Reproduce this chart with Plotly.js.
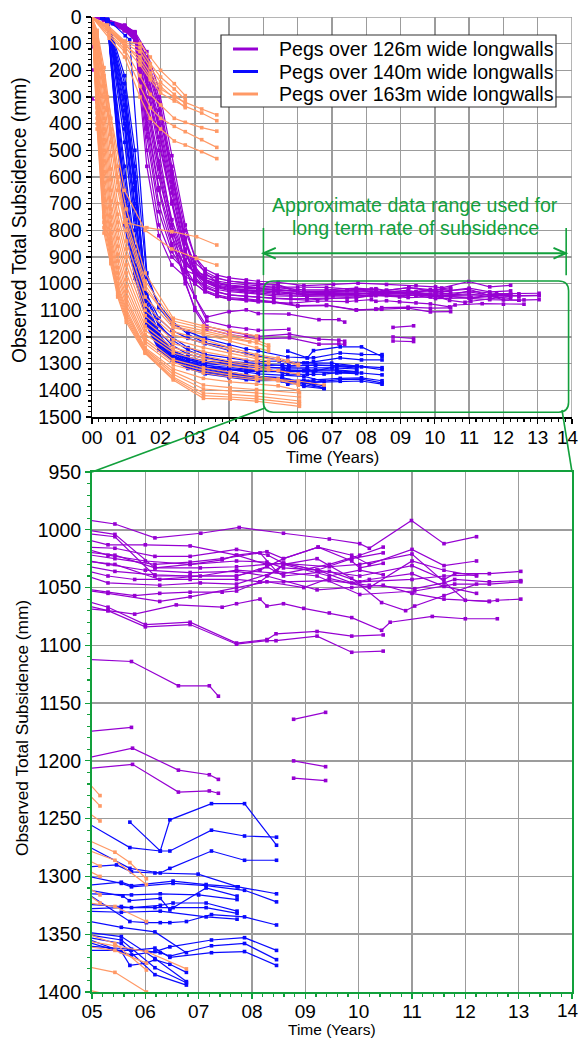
<!DOCTYPE html>
<html>
<head>
<meta charset="utf-8">
<script src="https://cdn.plot.ly/plotly-3.0.1.min.js"></script>
<style>html,body{margin:0;padding:0;background:#fff;overflow:hidden;}#chart{width:581px;height:1038px;}</style>
</head>
<body>
<div id="chart"></div>
<script>
// ---------------- DATA: each peg is a list of [time (years), subsidence (mm)] ----------------
// Pegs over 126m wide longwalls (purple)
const purple01 = [[0,0],[0.35,8],[0.95,40],[1.25,66],[1.6,150],[1.95,300],[2.33,560],[2.72,800],[3.0,900],[3.3,945],[3.65,968],[4.0,978],[4.5,986],[4.85,991],[5.43,995],[6.18,1007],[7.04,1003],[7.76,998],[8.59,1003],[9.45,1008],[10.02,1012],[10.2,1016],[10.99,992],[11.6,1012],[12.21,1006]];
const purple02 = [[0,0],[0.35,12],[0.95,48],[1.25,72],[1.6,420],[1.95,700],[2.33,860],[2.72,930],[3.0,955],[3.3,968],[3.65,980],[4.0,990],[4.5,996],[4.85,1000],[5.43,1004],[6.18,1033],[6.84,1030],[7.44,1026],[7.71,1022],[8.28,1030],[8.59,1029],[9.22,1035],[9.87,1025],[10.46,1020]];
const purple03 = [[0,0],[0.35,6],[0.95,30],[1.25,58],[1.6,200],[1.95,380],[2.33,620],[2.72,850],[3.0,920],[3.3,955],[3.65,978],[4.0,990],[4.5,998],[4.85,1003],[5.43,1006],[6.18,1040],[6.84,1040],[7.71,1040],[8.15,1035],[8.59,1025],[9.24,1015],[9.87,1027],[10.02,1033],[10.46,1029]];
const purple04 = [[0,0],[0.35,10],[0.95,45],[1.25,75],[1.6,500],[1.95,780],[2.33,900],[2.72,950],[3.0,965],[3.3,978],[3.65,990],[4.0,998],[4.5,1004],[4.85,1008],[5.3,1013],[6.0,1013],[6.84,1014],[7.71,1022],[8.28,1019],[8.59,1025],[9.24,1015],[9.87,1022],[10.2,1030],[11.0,1017],[11.6,1031],[12.21,1027]];
const purple05 = [[0,0],[0.35,9],[0.95,38],[1.25,62],[1.6,260],[1.95,470],[2.33,700],[2.72,880],[3.0,945],[3.3,975],[3.65,995],[4.0,1005],[4.5,1011],[4.85,1015],[5.43,1016],[6.18,1023],[6.84,1023],[7.71,1017],[8.3,1022],[8.59,1029],[9.45,1032],[10.02,1030],[11.0,1021],[12.0,1061],[12.45,1062],[12.6,1061],[13.04,1060]];
const purple06 = [[0,0],[0.35,11],[0.95,42],[1.25,70],[1.6,350],[1.95,600],[2.33,800],[2.72,920],[3.0,960],[3.3,985],[3.65,1000],[4.0,1008],[4.5,1012],[4.85,1016],[5.3,1022],[6.0,1027],[6.84,1030],[7.71,1027],[8.28,1028],[8.59,1033],[9.22,1035],[10.02,1040],[11.0,1031],[11.6,1043],[11.8,1038],[12.45,1038],[13.04,1036]];
const purple07 = [[0,0],[0.35,7],[0.95,33],[1.25,55],[1.6,130],[1.95,270],[2.33,520],[2.72,780],[3.0,900],[3.3,960],[3.65,995],[4.0,1008],[4.5,1014],[4.85,1019],[5.43,1022],[6.18,1033],[7.03,1033],[7.71,1032],[8.28,1030],[8.59,1029],[9.24,1035],[9.87,1046],[10.2,1043],[11.0,1038],[11.6,1049],[12.21,1055]];
const purple08 = [[0,0],[0.35,10],[0.95,44],[1.25,68],[1.6,300],[1.95,540],[2.33,760],[2.72,910],[3.0,965],[3.3,995],[3.65,1012],[4.0,1022],[4.5,1027],[4.85,1031],[5.43,1036],[6.18,1039],[6.84,1040],[7.71,1040],[8.28,1032],[8.59,1040],[9.45,1036],[10.02,1045],[11.0,1043],[11.6,1040],[12.21,1039]];
const purple09 = [[0,0],[0.35,8],[0.95,36],[1.25,60],[1.6,180],[1.95,350],[2.33,600],[2.72,840],[3.0,950],[3.3,995],[3.65,1015],[4.0,1025],[4.5,1031],[4.85,1035],[5.3,1040],[5.8,1043],[6.84,1043],[7.71,1043],[8.15,1045],[8.59,1045],[9.45,1044],[10.2,1048],[11.05,1051],[11.6,1046],[11.8,1043],[12.45,1045],[13.04,1044]];
const purple10 = [[0,0],[0.35,12],[0.95,50],[1.25,78],[1.6,560],[1.95,820],[2.33,930],[2.72,975],[3.0,990],[3.3,1005],[3.65,1022],[4.0,1030],[4.5,1035],[4.85,1039],[5.3,1046],[6.27,1048],[7.03,1046],[7.71,1047],[8.46,1036],[9.22,1040],[10.02,1056],[11.05,1053],[11.8,1047],[12.45,1047],[13.04,1045]];
const purple11 = [[0,0],[0.35,9],[0.95,40],[1.25,64],[1.6,230],[1.95,420],[2.33,660],[2.72,880],[3.0,975],[3.3,1015],[3.65,1032],[4.0,1042],[4.5,1047],[4.85,1051],[5.3,1054],[5.8,1057],[6.27,1055],[6.84,1054],[7.44,1054],[7.71,1053],[8.15,1045],[8.59,1030],[9.22,1025],[9.87,1042],[10.43,1063],[10.88,1070],[11.05,1066],[11.6,1057],[12.21,1047]];
const purple12 = [[0,0],[0.35,7],[0.95,34],[1.25,57],[1.6,160],[1.95,320],[2.33,580],[2.72,830],[3.0,960],[3.3,1010],[3.65,1030],[4.0,1042],[4.5,1048],[4.85,1052],[5.3,1055],[6.27,1062],[6.84,1058],[7.71,1050],[8.28,1045],[8.97,1050],[9.45,1042],[10.2,1050],[11.0,1027],[11.6,1035],[12.21,1040]];
const purple13 = [[0,0],[0.35,10],[0.95,46],[1.25,74],[1.6,450],[1.95,730],[2.33,880],[2.72,960],[3.0,1000],[3.3,1030],[3.65,1048],[4.0,1058],[4.5,1064],[4.85,1068],[5.3,1070],[5.8,1073],[6.58,1065],[7.44,1067],[7.71,1064],[8.15,1060],[8.28,1066],[8.59,1064],[8.97,1068],[9.45,1072],[9.87,1076],[10.43,1087],[10.59,1080],[11.38,1075],[12.0,1077],[12.6,1077]];
const purple14 = [[0,0],[0.35,8],[0.95,37],[1.25,61],[1.6,210],[1.95,400],[2.33,640],[2.72,870],[3.0,980],[3.3,1025],[3.65,1042],[4.0,1052],[4.5,1057],[4.85,1061],[5.3,1067],[6.0,1082],[6.84,1080],[7.71,1098],[8.28,1095],[8.45,1090],[9.22,1088],[9.87,1092],[10.46,1091]];
const purple15 = [[0,0],[0.35,11],[0.95,47],[1.25,73],[1.6,380],[1.95,640],[2.33,820],[2.72,940],[3.0,1000],[3.3,1030],[3.65,1047],[4.0,1056],[4.5,1061],[4.85,1065],[5.3,1070],[6.0,1084],[6.84,1082],[7.71,1099],[8.28,1096],[8.45,1096],[9.22,1092],[9.87,1106],[10.46,1105]];
const purple16 = [[0,0],[0.35,9],[0.95,39],[1.25,63],[1.6,240],[1.95,450],[2.33,690],[2.72,890],[3.0,950],[3.3,985],[3.65,1005],[4.0,1013],[4.5,1018],[4.85,1021],[5.43,1025],[6.18,1030],[6.84,1028],[7.44,1025],[8.15,1020],[8.46,1036],[8.59,1030],[9.45,1040],[10.02,1035],[10.46,1039]];
const purple17 = [[0,0],[0.35,10],[0.95,43],[1.25,67],[1.6,330],[1.95,560],[2.33,780],[2.72,915],[3.0,958],[3.3,990],[3.65,1010],[4.0,1018],[4.5,1023],[4.85,1026],[5.3,1030],[6.0,1035],[6.84,1037],[7.71,1036],[8.28,1040],[9.22,1052],[9.87,1050],[10.46,1048],[11.0,1055],[11.6,1060],[12.45,1062]];
const purple18 = [[0,0],[0.35,8],[0.95,35],[1.25,59],[1.6,170],[1.95,330],[2.33,590],[2.72,830],[3.0,935],[3.3,985],[3.65,1008],[4.0,1018],[4.5,1024],[4.85,1027],[5.43,1030],[6.27,1043],[7.03,1040],[7.71,1035],[8.59,1038],[9.45,1030],[10.02,1022],[10.46,1015]];
const purple19 = [[0,0],[0.35,10],[0.95,45],[1.25,80],[1.6,400],[1.95,650],[2.33,850],[2.72,980],[3.0,1050],[3.35,1125],[4.0,1105],[4.5,1098],[4.85,1112],[5.74,1114],[6.62,1135],[7.2,1135],[7.37,1144]];
const purple20 = [[0,0],[0.35,12],[0.95,50],[1.25,85],[1.6,200],[1.95,420],[2.33,700],[2.72,930],[3.0,1050],[3.35,1140],[4.0,1160],[4.5,1170],[4.85,1175],[5.74,1171]];
const purple21 = [[0,0],[0.35,11],[0.95,48],[1.25,82],[1.6,320],[1.95,570],[2.33,820],[2.72,1000],[3.0,1090],[3.35,1160],[4.0,1180],[4.5,1192],[4.85,1198],[5.76,1189],[6.62,1208],[7.2,1212],[7.37,1216]];
const purple22 = [[0,0],[0.35,13],[0.95,52],[1.25,88],[1.6,260],[1.95,500],[2.33,780],[2.72,990],[3.0,1100],[3.35,1170],[4.0,1190],[4.5,1200],[4.85,1207],[5.76,1203],[6.62,1227],[7.2,1226],[7.37,1228]];
const purple23 = [[8.78,1164],[9.38,1158]];
const purple24 = [[8.78,1200],[9.38,1205]];
const purple25 = [[8.78,1215],[9.38,1217]];
const purple26 = [[0,307],[0.14,315]];
const purple27 = [[0,111]];
const purple28 = [[0,199]];

// Pegs over 140m wide longwalls (blue)
const blue01 = [[5.71,1253],[6.28,1278],[6.46,1251],[7.24,1237],[7.86,1237],[8.46,1273]];
const blue02 = [[0.3,3],[0.6,25],[0.97,70],[1.1,85],[1.6,960],[1.95,1090],[2.33,1150],[2.8,1180],[3.3,1205],[4.0,1230],[4.5,1245],[4.85,1252],[5.71,1275],[6.28,1278],[6.46,1278],[7.24,1260],[7.86,1265],[8.46,1266]];
const blue03 = [[0.3,2],[0.45,10],[0.95,300],[1.25,620],[1.6,1040],[1.95,1130],[2.33,1175],[2.8,1205],[3.3,1225],[4.0,1250],[4.5,1262],[4.85,1272],[5.71,1293],[6.28,1297],[6.46,1293],[7.24,1278],[7.86,1286],[8.46,1286]];
const blue04 = [[0.3,4],[0.45,15],[0.95,700],[1.25,900],[1.6,1060],[1.95,1160],[2.33,1200],[2.8,1240],[3.3,1265],[4.0,1280],[4.5,1288],[4.85,1292],[5.46,1290],[5.74,1296],[6.18,1297],[6.99,1298],[7.74,1309],[8.46,1315]];
const blue05 = [[0.3,3],[0.45,14],[0.95,350],[1.25,650],[1.6,1080],[1.95,1180],[2.33,1230],[2.8,1265],[3.3,1280],[4.0,1292],[4.5,1296],[4.85,1299],[5.55,1306],[5.74,1309],[6.52,1306],[7.14,1308],[7.86,1312],[8.46,1322]];
const blue06 = [[0.3,5],[0.45,18],[0.95,750],[1.25,960],[1.6,1100],[1.95,1200],[2.33,1250],[2.8,1275],[3.3,1290],[4.0,1300],[4.5,1305],[4.85,1308],[5.55,1305],[5.74,1308],[6.52,1304],[7.14,1307],[7.72,1309]];
const blue07 = [[0.3,2],[0.45,9],[0.95,280],[1.25,600],[1.6,1110],[1.95,1210],[2.33,1255],[2.8,1280],[3.3,1295],[4.0,1303],[4.5,1308],[4.85,1311],[5.58,1317],[5.7,1321],[6.28,1319],[6.46,1329],[6.52,1327],[7.14,1310],[7.72,1317]];
const blue08 = [[0.3,4],[0.45,16],[0.95,650],[1.25,880],[1.6,1120],[1.95,1215],[2.33,1260],[2.8,1285],[3.3,1300],[4.0,1308],[4.5,1312],[4.85,1315],[5.74,1316],[6.28,1315],[7.0,1316],[7.72,1320]];
const blue09 = [[0.3,3],[0.45,13],[0.95,400],[1.25,720],[1.6,1130],[1.95,1225],[2.33,1268],[2.8,1292],[3.3,1306],[4.0,1315],[4.5,1320],[4.85,1324],[5.55,1326],[5.74,1327],[6.28,1325],[6.52,1323],[7.14,1323],[7.72,1330]];
const blue10 = [[0.3,5],[0.45,20],[0.95,780],[1.25,980],[1.6,1140],[1.95,1230],[2.33,1272],[2.8,1298],[3.3,1312],[4.0,1320],[4.5,1325],[4.85,1328],[5.55,1327],[6.18,1327],[7.14,1327],[7.72,1332]];
const blue11 = [[0.3,2],[0.45,11],[0.95,330],[1.25,640],[1.6,1050],[1.95,1150],[2.33,1210],[2.8,1250],[3.3,1275],[4.0,1295],[4.5,1305],[4.85,1313],[5.71,1339],[6.02,1340],[6.28,1340],[6.46,1340],[6.77,1339],[7.24,1333],[7.86,1335],[8.46,1342]];
const blue12 = [[0.3,4],[0.45,17],[0.95,560],[1.25,860],[1.6,1150],[1.95,1240],[2.33,1278],[2.8,1302],[3.3,1316],[4.0,1324],[4.5,1328],[4.85,1330],[5.55,1331],[6.28,1330],[7.14,1335],[7.72,1337]];
const blue13 = [[0.3,3],[0.45,12],[0.95,250],[1.25,560],[1.6,1090],[1.95,1190],[2.33,1250],[2.8,1285],[3.3,1305],[4.0,1322],[4.5,1332],[4.85,1338],[5.55,1344],[6.18,1348],[6.77,1366]];
const blue14 = [[0.3,5],[0.45,19],[0.95,680],[1.25,930],[1.6,1115],[1.95,1210],[2.33,1265],[2.8,1298],[3.3,1318],[4.0,1335],[4.5,1343],[4.85,1348],[5.55,1352],[6.18,1371],[6.77,1391]];
const blue15 = [[0.3,2],[0.45,10],[0.95,420],[1.25,760],[1.6,1125],[1.95,1220],[2.33,1270],[2.8,1302],[3.3,1322],[4.0,1338],[4.5,1346],[4.85,1350],[5.55,1355],[6.18,1379],[6.77,1392]];
const blue16 = [[0.3,4],[0.45,15],[0.95,720],[1.25,950],[1.6,1135],[1.95,1228],[2.33,1275],[2.8,1306],[3.3,1326],[4.0,1341],[4.5,1349],[4.85,1353],[5.55,1365],[5.71,1377],[6.02,1375],[6.18,1372],[6.46,1376],[6.77,1383]];
const blue17 = [[0.3,3],[0.45,14],[0.95,380],[1.25,700],[1.6,1145],[1.95,1235],[2.33,1280],[2.8,1310],[3.3,1330],[4.0,1344],[4.5,1352],[4.85,1356],[5.74,1368],[6.18,1365],[6.46,1361],[7.24,1355],[7.86,1353],[8.46,1364]];
const blue18 = [[0.3,5],[0.45,18],[0.95,600],[1.25,890],[1.6,1155],[1.95,1242],[2.33,1283],[2.8,1314],[3.3,1334],[4.0,1348],[4.5,1356],[4.85,1360],[5.74,1363],[6.28,1366],[6.46,1369],[7.24,1360],[7.86,1358],[8.46,1372]];
const blue19 = [[0.3,2],[0.45,9],[0.95,470],[1.25,800],[1.6,1160],[1.95,1248],[2.33,1286],[2.8,1318],[3.3,1338],[4.0,1352],[4.5,1360],[4.85,1364],[5.74,1364],[6.18,1362],[6.46,1370],[7.24,1366],[7.86,1365],[8.46,1377]];
const blue20 = [[0.3,4],[0.45,16],[0.95,300],[1.25,620],[1.6,1100],[1.95,1200],[2.33,1258],[2.8,1292],[3.3,1312],[4.0,1330],[4.5,1342],[4.85,1352],[5.55,1358],[6.18,1385],[6.77,1394]];
const blue21 = [[0.3,3],[0.45,12],[0.95,220],[1.25,500],[1.6,980],[1.95,1080],[2.33,1140],[2.8,1190],[3.3,1222],[4.03,1240]];

// Pegs over 163m wide longwalls (orange)
const orange01 = [[0,0],[0.45,30],[0.95,90],[1.4,100],[1.7,150],[2.0,200],[2.4,250],[2.72,295]];
const orange02 = [[0,0],[0.45,35],[0.95,95],[1.4,115],[1.7,175],[2.0,225],[2.4,270],[2.72,310]];
const orange03 = [[0,0],[0.45,40],[0.95,100],[1.4,130],[1.7,190],[2.0,245],[2.4,290],[2.72,325]];
const orange04 = [[0,0],[0.45,45],[0.95,105],[1.4,150],[1.7,210],[2.0,260],[2.4,305],[2.72,340]];
const orange05 = [[0,0],[0.45,40],[0.95,100],[1.4,165],[1.7,225],[2.0,270],[2.4,300],[2.72,320],[3.2,345],[3.64,367]];
const orange06 = [[0,0],[0.45,45],[0.95,110],[1.4,180],[1.7,235],[2.0,285],[2.4,315],[2.72,335],[3.2,360],[3.64,389]];
const orange07 = [[0,0],[0.5,60],[0.95,120],[1.4,220],[1.7,290],[2.0,330],[2.4,380],[2.72,395],[3.2,415],[3.64,428]];
const orange08 = [[0,0],[0.5,70],[0.95,130],[1.4,260],[1.7,340],[2.0,380],[2.4,410],[2.72,430],[3.2,460],[3.64,489]];
const orange09 = [[0,0],[0.5,80],[0.95,150],[1.4,300],[1.7,380],[2.0,420],[2.4,465],[2.72,480],[3.2,505],[3.64,531]];
const orange10 = [[0,0],[0.45,350],[0.95,770],[1.6,790],[2.33,805],[3.05,824],[3.64,855]];
const orange11 = [[0,0],[0.45,300],[0.95,650],[1.55,800],[2.33,870],[3.05,905],[3.64,930]];
const orange12 = [[0,0],[0.15,60],[0.35,220],[0.55,420],[0.75,600],[1.0,760],[1.55,990],[2.37,1140],[3.25,1165],[4.03,1190],[4.8,1212],[5.15,1230]];
const orange13 = [[0,0],[0.15,80],[0.35,260],[0.55,470],[0.75,650],[1.0,800],[1.55,1020],[2.37,1152],[3.25,1176],[4.03,1200],[4.8,1222],[5.15,1239]];
const orange14 = [[0,0],[0.15,100],[0.35,300],[0.55,520],[0.75,700],[1.0,840],[1.55,1050],[2.37,1165],[3.25,1190],[4.03,1215],[4.8,1240],[5.15,1252]];
const orange15 = [[0,0],[0.15,120],[0.35,340],[0.55,570],[0.75,740],[1.0,870],[1.55,1080],[2.37,1180],[3.25,1210],[4.03,1240],[4.8,1266],[5.43,1279],[5.71,1288],[6.02,1302]];
const orange16 = [[0,0],[0.15,140],[0.35,380],[0.55,610],[0.75,770],[1.0,900],[1.55,1100],[2.37,1192],[3.25,1222],[4.03,1250],[4.8,1275],[5.43,1286],[6.02,1307]];
const orange17 = [[0,0],[0.15,160],[0.35,420],[0.55,650],[0.75,800],[1.0,930],[1.55,1120],[2.37,1210],[3.25,1240],[4.03,1262],[4.8,1283],[5.15,1291]];
const orange18 = [[0,0],[0.15,180],[0.35,460],[0.55,690],[0.75,830],[1.0,960],[1.55,1140],[2.37,1225],[3.25,1255],[4.03,1275],[4.8,1292],[5.15,1300]];
const orange19 = [[0,0],[0.15,200],[0.35,500],[0.55,720],[0.75,860],[1.0,985],[1.55,1160],[2.37,1240],[3.25,1270],[4.03,1290],[4.8,1306],[5.15,1316]];
const orange20 = [[0,0],[0.15,220],[0.35,540],[0.55,750],[0.75,890],[1.0,1010],[1.55,1175],[2.37,1250],[3.25,1280],[4.03,1298],[4.8,1312],[5.15,1323]];
const orange21 = [[0,0],[0.15,240],[0.35,580],[0.55,780],[0.75,915],[1.0,1030],[1.55,1190],[2.37,1260],[3.25,1290],[4.03,1308],[4.8,1322],[5.43,1326],[6.02,1339]];
const orange22 = [[0,0],[0.15,260],[0.35,620],[0.55,810],[0.75,940],[1.0,1050],[1.55,1205],[2.37,1285],[3.25,1315],[4.03,1332],[4.8,1348],[5.43,1358],[6.02,1381]];
const orange23 = [[0,0],[0.15,280],[0.35,650],[0.55,830],[0.75,960],[1.0,1065],[1.55,1215],[2.37,1295],[3.25,1325],[4.03,1342],[4.8,1355],[5.43,1360],[6.02,1365],[6.77,1380]];
const orange24 = [[0,0],[0.15,300],[0.35,680],[0.55,850],[0.75,980],[1.0,1080],[1.55,1225],[2.37,1305],[3.25,1335],[4.03,1350],[4.8,1360],[5.43,1364],[6.02,1375]];
const orange25 = [[0,0],[0.15,320],[0.35,710],[0.55,870],[0.75,1000],[1.0,1095],[1.55,1240],[2.37,1320],[3.25,1355],[4.03,1368],[4.8,1377],[5.43,1383],[6.02,1400]];
const orange26 = [[0,0],[0.15,340],[0.35,730],[0.55,885],[0.75,1010],[1.0,1105],[1.55,1245],[2.37,1330],[3.25,1380],[4.03,1390],[4.8,1397],[6.05,1410]];
const orange27 = [[0,0],[0.15,360],[0.35,750],[0.55,895],[0.75,1020],[1.0,1115],[1.55,1250],[2.37,1340],[3.25,1395],[4.03,1402],[4.8,1410],[6.05,1425]];
const orange28 = [[0,0],[0.15,380],[0.35,770],[0.55,905],[0.75,1030],[1.0,1125],[1.55,1255],[2.37,1350],[3.25,1410],[4.03,1415],[4.8,1422],[6.05,1440]];
const orange29 = [[0,0],[0.15,400],[0.35,790],[0.55,915],[0.75,1040],[1.0,1135],[1.55,1258],[2.37,1356],[3.25,1420],[4.03,1425],[4.8,1432],[6.05,1450]];
const orange30 = [[0,0],[0.15,420],[0.35,810],[0.55,925],[0.75,1050],[1.0,1145],[1.55,1261],[2.37,1361],[3.25,1430],[4.03,1433],[4.8,1441],[6.05,1460]];
const orange31 = [[0,0],[0.15,50],[0.35,190],[0.55,380],[0.75,560],[1.0,720],[1.55,960],[2.37,1130],[3.25,1158],[4.03,1178],[4.8,1196]];
const orange32 = [[0,0],[0.15,70],[0.35,240],[0.55,440],[0.75,620],[1.0,780],[1.55,1005],[2.37,1160],[3.25,1185],[4.03,1205],[4.6,1218]];

const purpleSeries = [purple01,purple02,purple03,purple04,purple05,purple06,purple07,purple08,purple09,purple10,purple11,purple12,purple13,purple14,purple15,purple16,purple17,purple18,purple19,purple20,purple21,purple22,purple23,purple24,purple25,purple26,purple27,purple28];
const blueSeries = [blue01,blue02,blue03,blue04,blue05,blue06,blue07,blue08,blue09,blue10,blue11,blue12,blue13,blue14,blue15,blue16,blue17,blue18,blue19,blue20,blue21];
const orangeSeries = [orange01,orange02,orange03,orange04,orange05,orange06,orange07,orange08,orange09,orange10,orange11,orange12,orange13,orange14,orange15,orange16,orange17,orange18,orange19,orange20,orange21,orange22,orange23,orange24,orange25,orange26,orange27,orange28,orange29,orange30,orange31,orange32];

const legendNames = ['Pegs over 126m wide longwalls','Pegs over 140m wide longwalls','Pegs over 163m wide longwalls'];
const xTickValsTop = [0,1,2,3,4,5,6,7,8,9,10,11,12,13,14];
const xTickTextTop = ['00','01','02','03','04','05','06','07','08','09','10','11','12','13',''];
const xTickValsBottom = [5,6,7,8,9,10,11,12,13,14];
const xTickTextBottom = ['05','06','07','08','09','10','11','12','13',''];
const lastXTickLabel = '14';
const yTickValsTop = [0,100,200,300,400,500,600,700,800,900,1000,1100,1200,1300,1400,1500];
const yTickValsBottom = [950,1000,1050,1100,1150,1200,1250,1300,1350,1400];
const xTitle = 'Time (Years)';
const yTitle = 'Observed Total Subsidence (mm)';
const calloutLines = ['Approximate data range used for','long term rate of subsidence'];

// ---------------- STYLE ----------------
const COLORS = ['#9600d2','#0a0aff','#ff9966'];
const GREEN = '#12a03c';
const GRID = '#9c9c9c';
const FONT = 'Liberation Sans, Arial, Helvetica, sans-serif';

const traces = [];
function addGroup(series, color){
  series.forEach(s=>{
    const xs = s.map(p=>p[0]), ys = s.map(p=>p[1]);
    ['', '2'].forEach(k=>{
      traces.push({x:xs,y:ys,type:'scatter',mode:'lines+markers',showlegend:false,
        xaxis:'x'+k, yaxis:'y'+k,
        line:{color:color,width:1.2},
        marker:{color:color,size:3.6,symbol:'square',line:{width:0}},
        hoverinfo:'skip'});
    });
  });
}
addGroup(purpleSeries, COLORS[0]);
addGroup(blueSeries, COLORS[1]);
addGroup(orangeSeries, COLORS[2]);

// geometry helpers (pixel -> paper coords)
const M = {l:92,r:9,t:17,b:46};
const PW = 581-M.l-M.r, PH = 1038-M.t-M.b;
const px2x = p => (p-M.l)/PW;
const py2y = p => (1038-M.b-p)/PH;

const topDomain = [py2y(417),1];
const botDomain = [0,py2y(472)];

function axisBase(){
  return {showgrid:true,gridcolor:GRID,gridwidth:1.5,zeroline:false,showline:true,
    ticks:'outside',ticklen:5,tickwidth:1.2,
    tickfont:{family:FONT,size:19,color:'black'},fixedrange:true};
}
const xaxis = Object.assign(axisBase(),{domain:[0,1],anchor:'y',range:[0,14],tickvals:xTickValsTop,ticktext:xTickTextTop,
  linecolor:'black',linewidth:1.5,tickcolor:'black',ticklabelstandoff:-2,
  minor:{dtick:0.2,ticks:'outside',ticklen:3,tickcolor:'black',showgrid:false}});
const yaxis = Object.assign(axisBase(),{domain:topDomain,anchor:'x',range:[1500,0],tickvals:yTickValsTop,
  linecolor:'black',linewidth:1.5,tickcolor:'black',tickfont:{family:FONT,size:19.5,color:'black'},
  minor:{dtick:20,ticks:'outside',ticklen:3,tickcolor:'black',showgrid:false}});
const xaxis2 = Object.assign(axisBase(),{domain:[0,1],anchor:'y2',range:[5,14],tickvals:xTickValsBottom,ticktext:xTickTextBottom,
  linecolor:GREEN,linewidth:2,tickcolor:GREEN,mirror:true,ticklabelstandoff:-4,
  minor:{dtick:0.2,ticks:'outside',ticklen:3,tickcolor:GREEN,showgrid:false}});
const yaxis2 = Object.assign(axisBase(),{domain:botDomain,anchor:'x2',range:[1400,950],tickvals:yTickValsBottom,
  linecolor:GREEN,linewidth:2,tickcolor:GREEN,mirror:true,tickfont:{family:FONT,size:19.5,color:'black'},
  minor:{dtick:10,ticks:'outside',ticklen:3,tickcolor:GREEN,showgrid:false}});

// green callout in the top panel (data coords)
const rx0=5.0, rx1=13.9, ry0=990, ry1=1482, crx=0.29, cry=37;
const rectPath = `M${rx0+crx},${ry0} L${rx1-crx},${ry0} Q${rx1},${ry0} ${rx1},${ry0+cry} L${rx1},${ry1-cry} Q${rx1},${ry1} ${rx1-crx},${ry1} L${rx0+crx},${ry1} Q${rx0},${ry1} ${rx0},${ry1-cry} L${rx0},${ry0+cry} Q${rx0},${ry0} ${rx0+crx},${ry0} Z`;
const ay=886, ax0=5.0, ax1=13.82, ahx=0.36, ahy=20;
const shapes = [
  {type:'line',xref:'x',yref:'y',x0:0,x1:14,y0:0,y1:0,line:{color:GRID,width:1.5},layer:'below'},
  {type:'line',xref:'x',yref:'y',x0:14,x1:14,y0:0,y1:1500,line:{color:GRID,width:1.5},layer:'below'},
  {type:'path',xref:'x',yref:'y',path:rectPath,line:{color:GREEN,width:1.6}},
  {type:'line',xref:'x',yref:'y',x0:ax0,x1:ax1,y0:ay,y1:ay,line:{color:GREEN,width:2}},
  {type:'path',xref:'x',yref:'y',path:`M${ax0+ahx},${ay-ahy} L${ax0},${ay} L${ax0+ahx},${ay+ahy}`,line:{color:GREEN,width:2}},
  {type:'path',xref:'x',yref:'y',path:`M${ax1-ahx},${ay-ahy} L${ax1},${ay} L${ax1-ahx},${ay+ahy}`,line:{color:GREEN,width:2}},
  {type:'line',xref:'x',yref:'y',x0:ax0,x1:ax0,y0:791,y1:968,line:{color:GREEN,width:1.6}},
  {type:'line',xref:'x',yref:'y',x0:13.83,x1:13.83,y0:791,y1:968,line:{color:GREEN,width:1.6}},
  {type:'line',xref:'paper',yref:'paper',x0:px2x(265),y0:py2y(408),x1:0,y1:py2y(472),line:{color:GREEN,width:1.6}},
  {type:'line',xref:'paper',yref:'paper',x0:px2x(562),y0:py2y(410),x1:1,y1:py2y(472),line:{color:GREEN,width:1.6}},
  // legend box
  {type:'rect',xref:'paper',yref:'paper',x0:px2x(221),x1:px2x(556),y0:py2y(107),y1:py2y(35),
   fillcolor:'white',line:{color:'#333333',width:1.2}}
];
const legendRowsY = [49,71.5,94];
legendNames.forEach((n,i)=>{
  shapes.push({type:'line',xref:'paper',yref:'paper',x0:px2x(233),x1:px2x(258),
    y0:py2y(legendRowsY[i]),y1:py2y(legendRowsY[i]),line:{color:COLORS[i],width:3}});
});
const annotations = [
  {xref:'paper',yref:'paper',x:px2x(415),y:py2y(205),text:calloutLines[0],showarrow:false,
   font:{family:FONT,size:19.6,color:GREEN},xanchor:'center',yanchor:'middle'},
  {xref:'paper',yref:'paper',x:px2x(415),y:py2y(228),text:calloutLines[1],showarrow:false,
   font:{family:FONT,size:19.6,color:GREEN},xanchor:'center',yanchor:'middle'},
  // last x tick labels, kept inside the page
  {xref:'paper',yref:'paper',x:px2x(580.5),y:py2y(437),text:lastXTickLabel,showarrow:false,
   font:{family:FONT,size:19,color:'black'},xanchor:'right',yanchor:'middle'},
  {xref:'paper',yref:'paper',x:px2x(580.5),y:py2y(1010),text:lastXTickLabel,showarrow:false,
   font:{family:FONT,size:19,color:'black'},xanchor:'right',yanchor:'middle'},
  // axis titles
  {xref:'paper',yref:'paper',x:px2x(332),y:py2y(457),text:xTitle,showarrow:false,
   font:{family:FONT,size:16.5,color:'black'},xanchor:'center',yanchor:'middle'},
  {xref:'paper',yref:'paper',x:px2x(332),y:py2y(1029.5),text:xTitle,showarrow:false,
   font:{family:FONT,size:15.5,color:'black'},xanchor:'center',yanchor:'middle'},
  {xref:'paper',yref:'paper',x:px2x(20),y:py2y(220),text:yTitle,showarrow:false,textangle:-90,
   font:{family:FONT,size:19.3,color:'black'},xanchor:'center',yanchor:'middle'},
  {xref:'paper',yref:'paper',x:px2x(22),y:py2y(728),text:yTitle,showarrow:false,textangle:-90,
   font:{family:FONT,size:17.3,color:'black'},xanchor:'center',yanchor:'middle'}
];
legendNames.forEach((n,i)=>{
  annotations.push({xref:'paper',yref:'paper',x:px2x(277),y:py2y(legendRowsY[i]),text:n,showarrow:false,
    font:{family:FONT,size:19.6,color:'black'},xanchor:'left',yanchor:'middle'});
});

const layout = {
  width:581,height:1038,margin:M,paper_bgcolor:'white',plot_bgcolor:'white',
  font:{family:FONT,color:'black'},
  xaxis, yaxis, xaxis2, yaxis2, shapes, annotations,
  showlegend:false,
  hovermode:false
};
Plotly.newPlot('chart',traces,layout,{staticPlot:true,displayModeBar:false});
</script>
</body>
</html>
